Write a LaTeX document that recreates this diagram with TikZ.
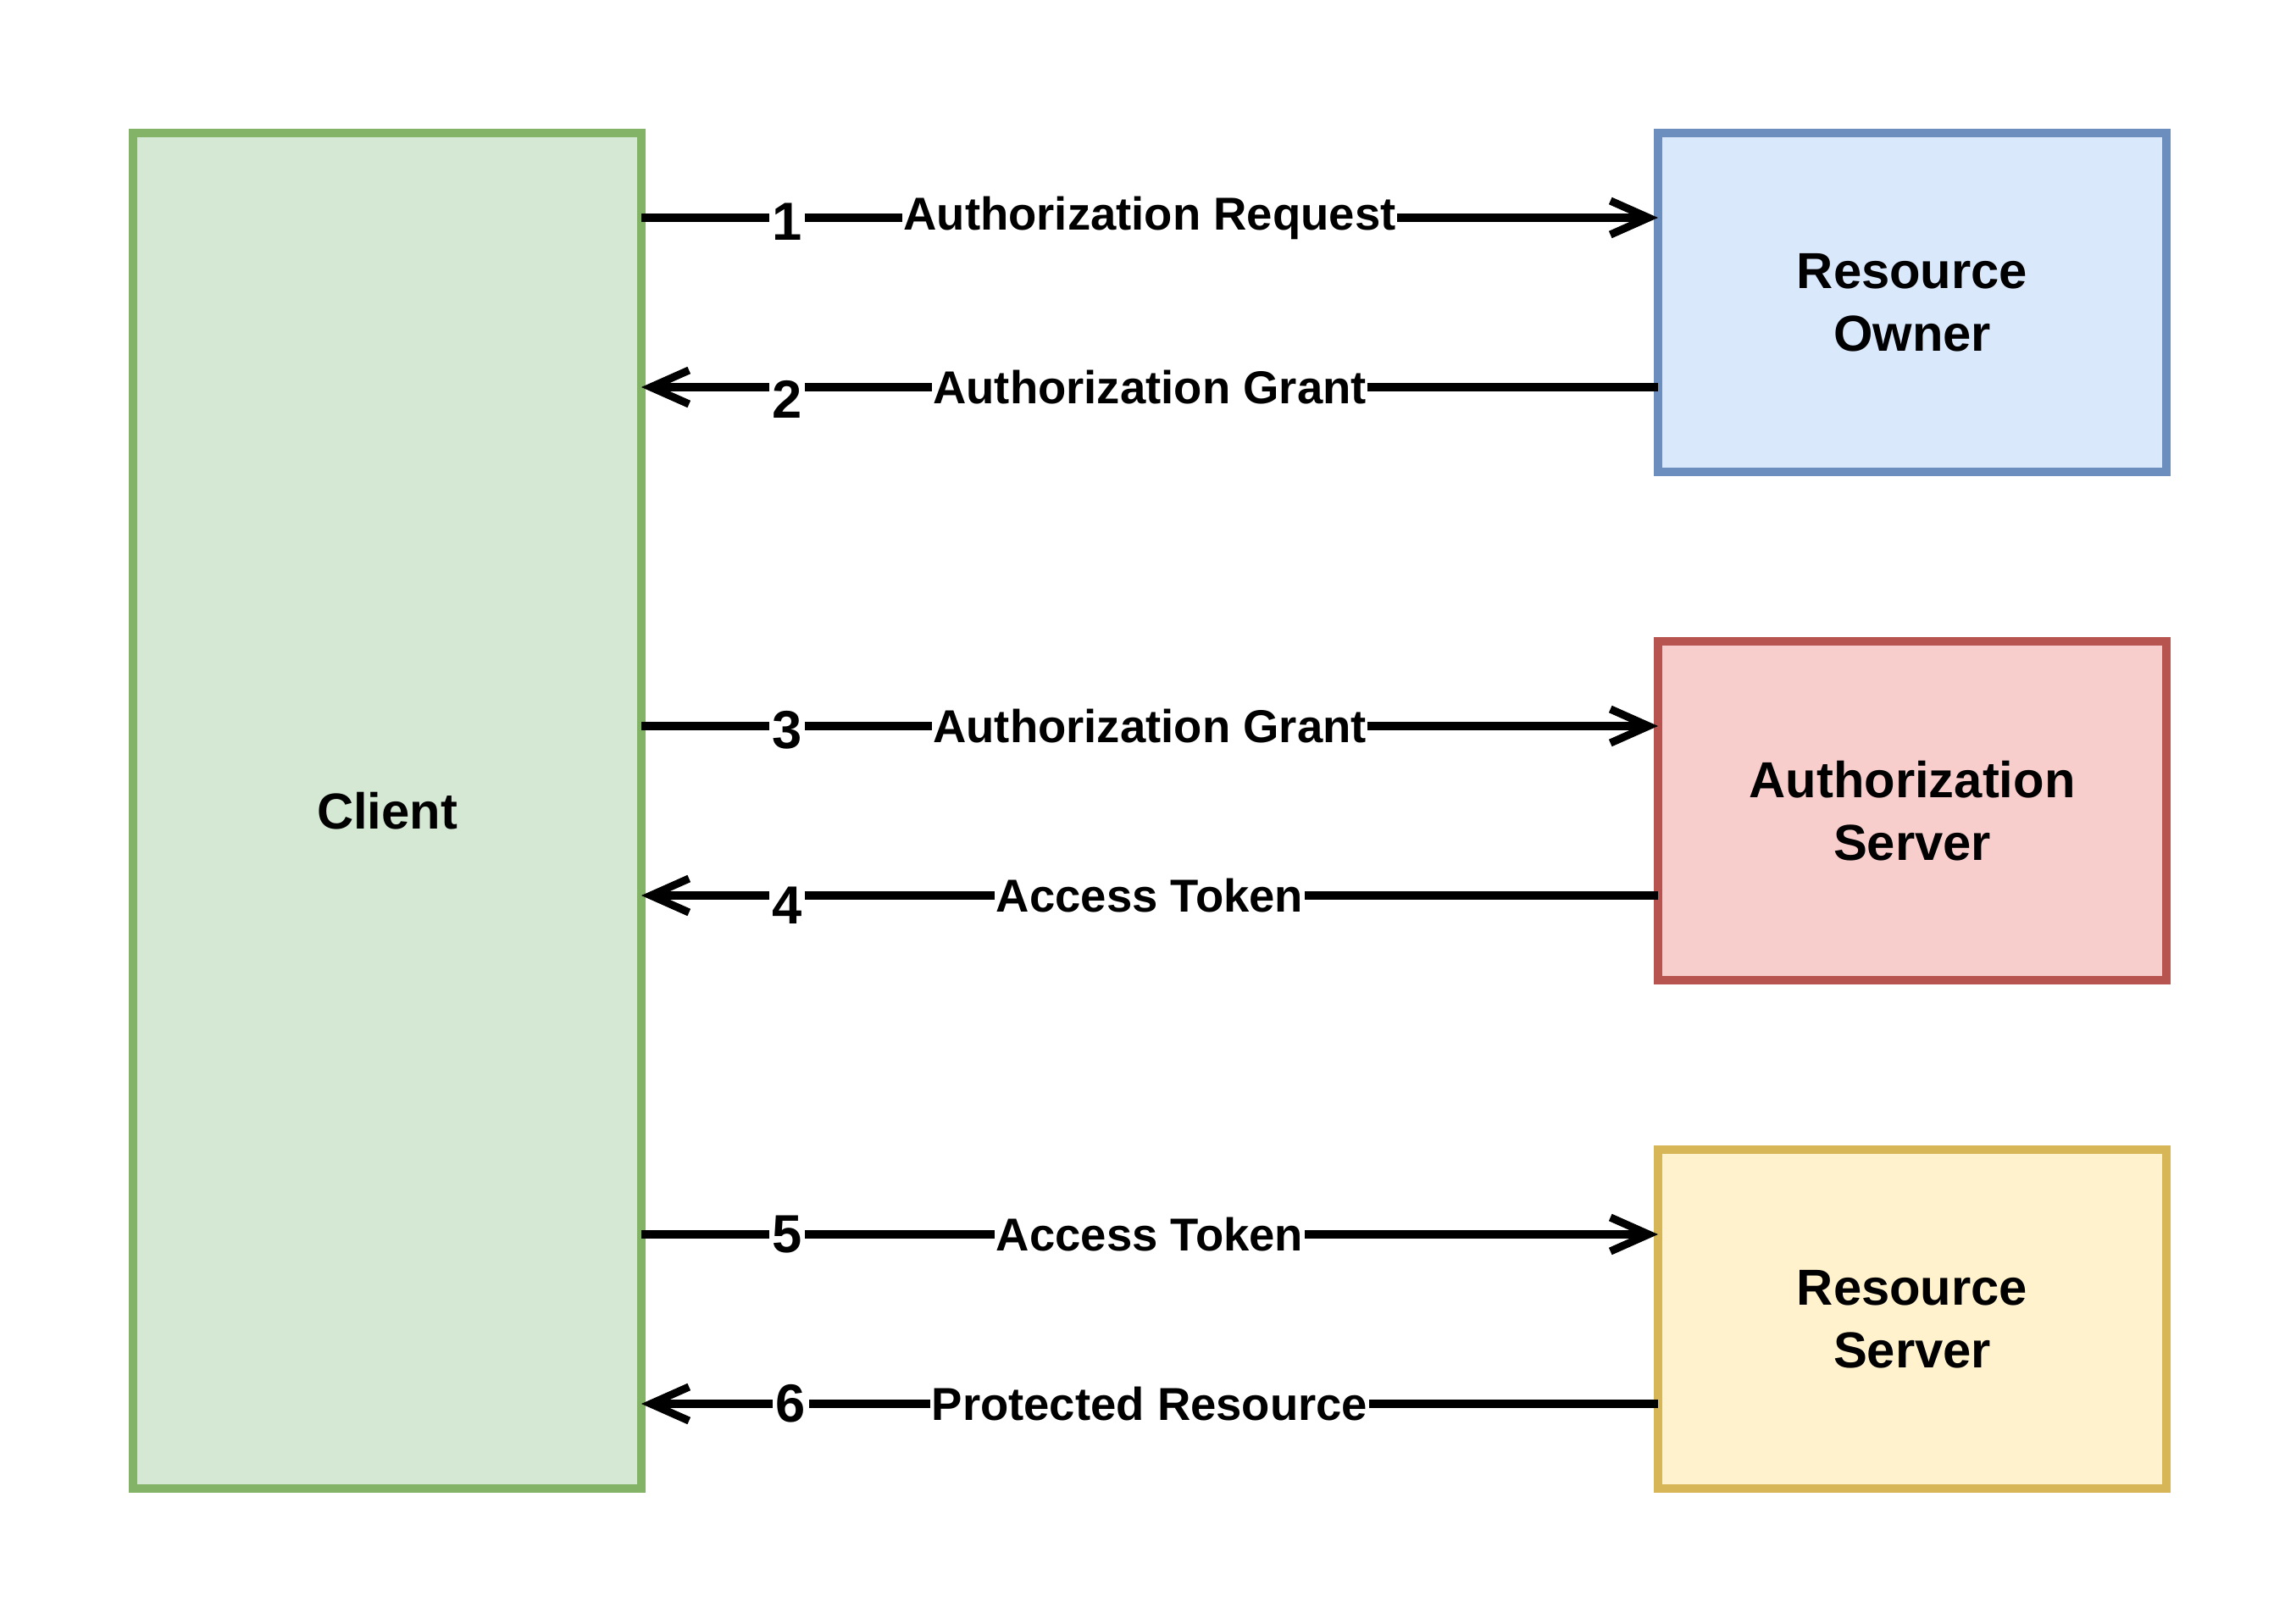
\documentclass[tikz,border=0pt]{standalone}
\usepackage{fontspec}
\setmainfont{Liberation Sans}
\usetikzlibrary{arrows.meta}
\definecolor{clientfill}{HTML}{D5E8D4}\definecolor{clientline}{HTML}{82B366}
\definecolor{ownerfill}{HTML}{DAE8FC}\definecolor{ownerline}{HTML}{6C8EBF}
\definecolor{authfill}{HTML}{F8CECC}\definecolor{authline}{HTML}{B85450}
\definecolor{resfill}{HTML}{FFF2CC}\definecolor{resline}{HTML}{D6B656}
\tikzset{
  party/.style={draw, line width=2.9pt, outer sep=0pt, minimum width=6cm,
    align=center, font=\bfseries\fontsize{17pt}{21pt}\selectfont},
  flow/.style={line width=2.6pt, -{Straight Barb[length=0.45cm, width=0.4cm]}},
  msg/.style={fill=white, inner xsep=0.5pt, inner ysep=1pt,
    font=\bfseries\fontsize{15.5pt}{18pt}\selectfont},
  stepnum/.style={fill=white, inner xsep=1pt, inner ysep=1pt,
    font=\bfseries\fontsize{18pt}{20pt}\selectfont}
}
\begin{document}
\begin{tikzpicture}
    \useasboundingbox (0,0) rectangle (27.1,19.1);
    % ------ Boxes -----------------
    \node [party, fill=clientfill, draw=clientline, minimum height=16cm] (client) at (4.57,9.53) {Client};
    \node [party, fill=ownerfill, draw=ownerline, minimum height=4cm] (owner) at (22.57,15.53) {Resource\\Owner};
    \node [party, fill=authfill, draw=authline, minimum height=4cm] (authsrv) at (22.57,9.53) {Authorization\\Server};
    \node [party, fill=resfill, draw=resline, minimum height=4cm] (ressrv) at (22.57,3.53) {Resource\\Server};
    % ------ Ports -----------------
    \coordinate (owner1) at ([yshift=1cm]owner.west);
    \coordinate (owner2) at ([yshift=-1cm]owner.west);
    \coordinate (auth1) at ([yshift=1cm]authsrv.west);
    \coordinate (auth2) at ([yshift=-1cm]authsrv.west);
    \coordinate (res1) at ([yshift=1cm]ressrv.west);
    \coordinate (res2) at ([yshift=-1cm]ressrv.west);
    % ------ Messages -----------------
    \draw [flow] (client.east |- owner1) -- (owner1)
      node [stepnum, pos=0.143, yshift=-0.05cm] {1} node [msg, pos=0.5] {Authorization Request};
    \draw [flow] (owner2) -- (client.east |- owner2)
      node [stepnum, pos=0.857, yshift=-0.14cm] {2} node [msg, pos=0.5] {Authorization Grant};
    \draw [flow] (client.east |- auth1) -- (auth1)
      node [stepnum, pos=0.143, yshift=-0.05cm] {3} node [msg, pos=0.5] {Authorization Grant};
    \draw [flow] (auth2) -- (client.east |- auth2)
      node [stepnum, pos=0.857, yshift=-0.12cm] {4} node [msg, pos=0.5] {Access Token};
    \draw [flow] (client.east |- res1) -- (res1)
      node [stepnum, pos=0.143] {5} node [msg, pos=0.5] {Access Token};
    \draw [flow] (res2) -- (client.east |- res2)
      node [stepnum, pos=0.853] {6} node [msg, pos=0.5] {Protected Resource};
\end{tikzpicture}
\end{document}
